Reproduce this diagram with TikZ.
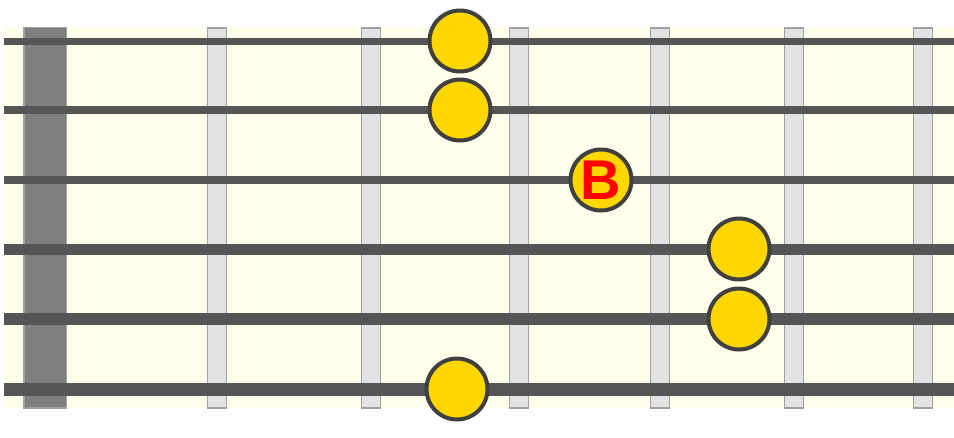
\documentclass[tikz,border=0pt]{standalone}
\usepackage{fontspec}
\setmainfont{Liberation Sans}
\usepackage{tikz}
\usetikzlibrary{positioning}
\definecolor{board}{RGB}{255,255,235}
\definecolor{nutgray}{RGB}{127,127,127}
\definecolor{fretgray}{RGB}{226,226,226}
\definecolor{edgegray}{RGB}{160,160,160}
\definecolor{stringgray}{RGB}{85,85,85}
\definecolor{dotgold}{RGB}{255,215,0}
\definecolor{dotedge}{RGB}{64,64,64}

\begin{document}
\begin{tikzpicture}
  [x=1pt,y=-1pt,
  fret/.style={fill=fretgray,draw=edgegray,line width=1.5pt},
  nut/.style={fill=nutgray,draw=edgegray,line width=1.5pt},
  dot/.style={circle,draw=dotedge,fill=dotgold,line width=4pt,inner sep=0pt,minimum size=61pt},
  rootdot/.style={dot,text=red,font=\fontsize{56}{56}\selectfont\bfseries}]
  \useasboundingbox (0,0) rectangle (954,437);
  \fill[board] (4,27) rectangle (954,408);
  
  \draw[nut] (24,27.5) rectangle (66.5,408);
  \foreach \x in {217,371,519,660,794,923}
    \draw[fret] (\x-9.5,28) rectangle (\x+9.5,408);
  
  \foreach \y/\w in {41/7,110/8,180/8,249/11,319/12,389/13}
    \draw[stringgray,line width=\w pt] (4,\y) -- (954,\y);
  
  \node[dot] (11) at (460,41) {};
  \node[dot] (21) at (460,110) {};
  \node[rootdot] (31) at (601,180) {B};
  \node[dot] (41) at (739,249) {};
  \node[dot] (51) at (739,319) {};
  \node[dot] (61) at (457,389) {};
  
  \end{tikzpicture}
\end{document}
